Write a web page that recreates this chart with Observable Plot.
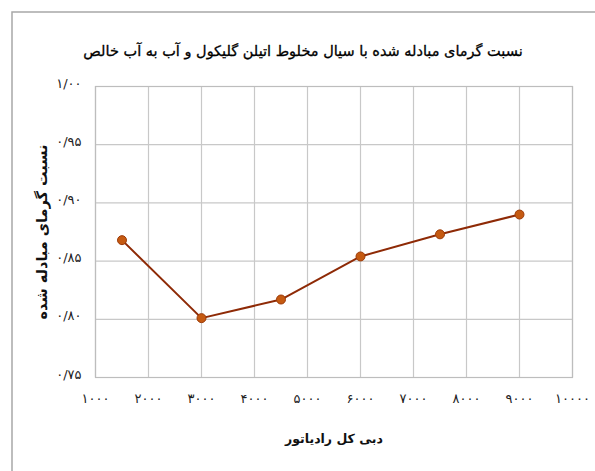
<!DOCTYPE html>
<html>
<head>
<meta charset="utf-8">
<script src="https://cdn.jsdelivr.net/npm/d3@7"></script>
<script src="https://cdn.jsdelivr.net/npm/@observablehq/plot@0.6"></script>
<style>
  html, body { margin: 0; padding: 0; background: #fff; }
  #chart svg { display: block; font-family: "DejaVu Sans", sans-serif; }
</style>
</head>
<body>
<div id="chart"></div>
<script>
const flowRate = [1500, 3000, 4500, 6000, 7500, 9000];
const heatRatio = [0.868, 0.801, 0.817, 0.854, 0.873, 0.890];
const xTicks = [1000, 2000, 3000, 4000, 5000, 6000, 7000, 8000, 9000, 10000];
const yTicks = [0.75, 0.80, 0.85, 0.90, 0.95, 1.00];
const titleText = "نسبت گرمای مبادله شده با سیال مخلوط اتیلن گلیکول و آب به آب خالص";
const xLabel = "دبی کل رادیاتور";
const yLabel = "نسبت گرمای مبادله شده";

const data = flowRate.map((x, i) => ({x, y: heatRatio[i]}));
const fa = s => String(s).replace(/\d/g, d => "۰۱۲۳۴۵۶۷۸۹"[d]);

const chart = Plot.plot({
  width: 595,
  height: 471,
  marginLeft: 95,
  marginRight: 23,
  marginTop: 86,
  marginBottom: 94,
  style: {fontFamily: "DejaVu Sans, sans-serif", background: "#fff"},
  x: {domain: [1000, 10000]},
  y: {domain: [0.75, 1.0]},
  marks: [
    Plot.gridX(xTicks, {stroke: "#c8c8c8", strokeOpacity: 1, strokeWidth: 1.2}),
    Plot.gridY(yTicks, {stroke: "#c8c8c8", strokeOpacity: 1, strokeWidth: 1.2}),
    Plot.frame({stroke: "#bdbdbd", strokeWidth: 1.2}),
    Plot.axisX(xTicks, {tickSize: 0, tickPadding: 16, fontSize: 13, fill: "#222", tickFormat: d => fa(d), label: null}),
    Plot.axisY(yTicks, {tickSize: 0, tickPadding: 14, fontSize: 13, fill: "#222", dy: -3, tickFormat: d => fa(d3.format(".2f")(d)).replace(".", "/"), label: null}),
    Plot.line(data, {x: "x", y: "y", stroke: "#8e2a06", strokeWidth: 2}),
    Plot.dot(data, {x: "x", y: "y", r: 4.5, fill: "#c55a11", stroke: "#9c3a08", strokeWidth: 1}),
    Plot.text([titleText], {frameAnchor: "top", textAnchor: "middle", dx: -31, dy: -41, fontSize: 14.5, fill: "#000", stroke: "#000", strokeWidth: 0.3, text: d => d}),
    Plot.text([xLabel], {frameAnchor: "bottom", textAnchor: "middle", dx: 0, dy: 65, fontSize: 12.5, fontWeight: "bold", fill: "#111", text: d => d}),
    Plot.text([yLabel], {frameAnchor: "left", textAnchor: "middle", dx: -53, rotate: -90, fontSize: 14.5, fontWeight: "bold", fill: "#111", text: d => d})
  ]
});

d3.select(chart).insert("rect", ":first-child")
  .attr("x", 12).attr("y", 12).attr("width", 620).attr("height", 500)
  .attr("fill", "none").attr("stroke", "#a8a8a8").attr("stroke-width", 1.5);

document.getElementById("chart").appendChild(chart);
</script>
</body>
</html>
